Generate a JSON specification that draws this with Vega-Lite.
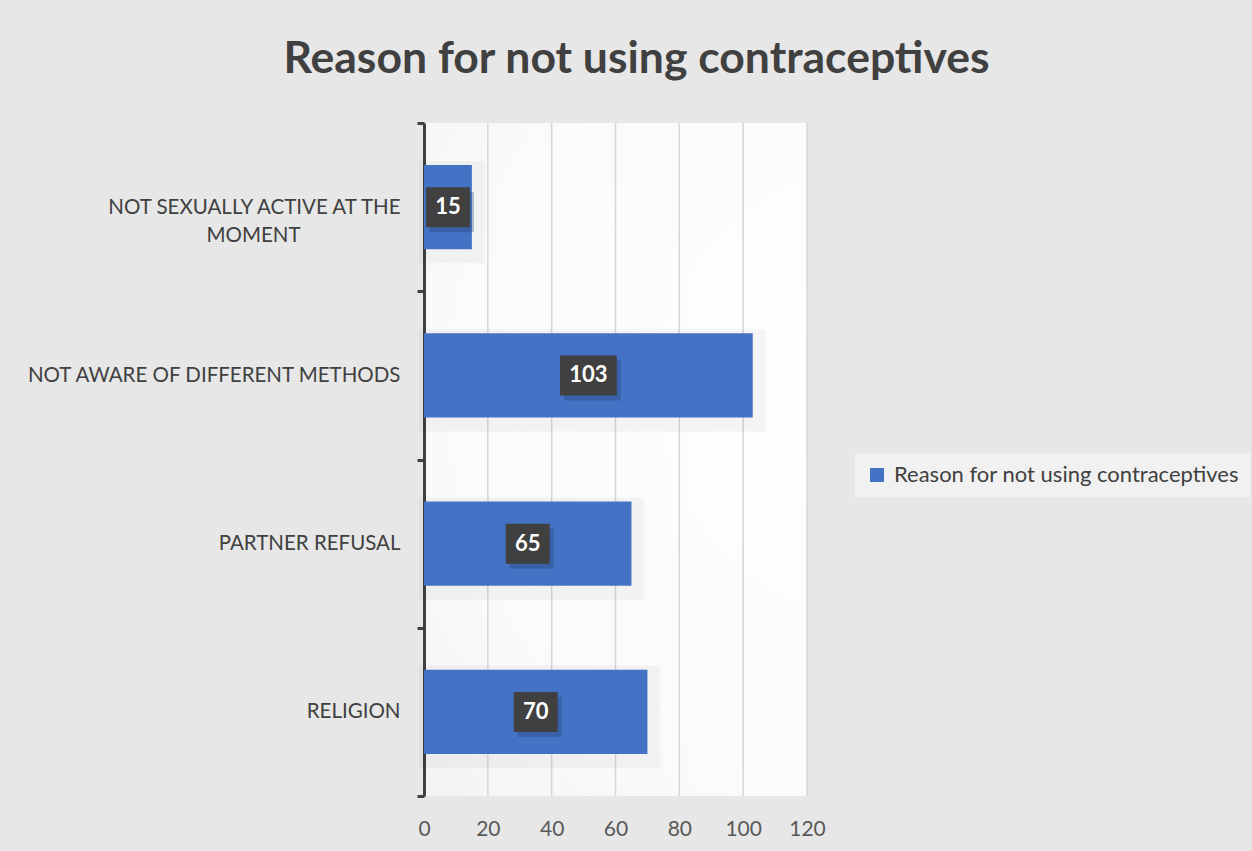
{
  "$schema": "https://vega.github.io/schema/vega-lite/v6.json",
  "autosize": "none",
  "width": 383,
  "height": 673,
  "padding": {"left": 424, "top": 123, "right": 445, "bottom": 55},
  "background": "#e7e7e7",
  "title": {
    "text": "Reason for not using contraceptives",
    "font": "Lato",
    "fontSize": 44.5,
    "fontWeight": "bold",
    "color": "#404040",
    "anchor": "middle",
    "frame": "group",
    "dx": 21,
    "baseline": "alphabetic",
    "offset": -4
  },
  "data": {
    "values": [
      {"reason": "NOT SEXUALLY ACTIVE AT THE MOMENT", "count": 15, "series": "Reason for not using contraceptives"},
      {"reason": "NOT AWARE OF DIFFERENT METHODS", "count": 103, "series": "Reason for not using contraceptives"},
      {"reason": "PARTNER REFUSAL", "count": 65, "series": "Reason for not using contraceptives"},
      {"reason": "RELIGION", "count": 70, "series": "Reason for not using contraceptives"}
    ]
  },
  "layer": [
    {
      "data": {"values": [{"gridValue": 20}, {"gridValue": 40}, {"gridValue": 60}, {"gridValue": 80}, {"gridValue": 100}, {"gridValue": 120}]},
      "mark": {"type": "rule", "color": "#d6d6d6", "strokeWidth": 1.5},
      "encoding": {
        "x": {"field": "gridValue", "type": "quantitative", "scale": {"domain": [0, 120]}, "axis": null}
      }
    },
    {
      "mark": {"type": "bar", "height": {"band": 0.5}, "fill": null, "stroke": "#000000", "strokeOpacity": 0.035, "strokeWidth": 18, "xOffset": 4, "yOffset": 5},
      "encoding": {
        "y": {
          "field": "reason",
          "type": "nominal",
          "sort": null,
          "scale": {"paddingInner": 0, "paddingOuter": 0},
          "axis": {
            "title": null,
            "domainColor": "#404040",
            "domainWidth": 3,
            "tickColor": "#404040",
            "tickWidth": 3,
            "tickSize": 7,
            "tickBand": "extent",
            "labelFont": "Lato",
            "labelFontSize": 20.5,
            "labelColor": "#404040",
            "labelPadding": 17,
            "labelLineHeight": 28,
            "labelLimit": 500,
            "grid": false,
            "labelExpr": "datum.value == 'NOT SEXUALLY ACTIVE AT THE MOMENT' ? ['NOT SEXUALLY ACTIVE AT THE', 'MOMENT\u00a0\u00a0\u2800\u2800\u2800\u2800\u2800\u2800'] : datum.label"
          }
        },
        "x": {"field": "count", "type": "quantitative", "scale": {"domain": [0, 120]}, "axis": null}
      }
    },
    {
      "mark": {"type": "bar", "height": {"band": 0.5}},
      "encoding": {
        "y": {"field": "reason", "type": "nominal", "sort": null},
        "x": {
          "field": "count",
          "type": "quantitative",
          "scale": {"domain": [0, 120]},
          "axis": {
            "title": null,
            "values": [0, 20, 40, 60, 80, 100, 120],
            "domain": false,
            "ticks": false,
            "tickSize": 0,
            "grid": false,
            "labelFlush": false,
            "labelOverlap": false,
            "labelFont": "Lato",
            "labelFontSize": 21,
            "labelColor": "#595959",
            "labelPadding": 22
          }
        },
        "color": {
          "field": "series",
          "type": "nominal",
          "scale": {"range": ["#4472C4"]},
          "legend": {
            "title": null,
            "orient": "none",
            "legendX": 431,
            "legendY": 330,
            "fillColor": "#f1f1f1",
            "padding": 11,
            "symbolType": "square",
            "symbolSize": 196,
            "symbolStrokeWidth": 0,
            "labelOffset": 6,
            "labelFont": "Lato",
            "labelFontSize": 22,
            "labelColor": "#404040",
            "labelLimit": 500
          }
        }
      }
    },
    {
      "mark": {"type": "point", "filled": true, "fill": "#1f3a6e", "opacity": 0.3, "xOffset": 4, "yOffset": 5},
      "encoding": {
        "y": {"field": "reason", "type": "nominal", "sort": null},
        "x": {"field": "count", "type": "quantitative", "scale": {"domain": [0, 240]}, "axis": null},
        "size": {"value": 1600},
        "shape": {"condition": {"test": "datum.count >= 100", "value": "M-1.42,-1H1.42V1H-1.42Z"}, "value": "M-1.1,-1H1.1V1H-1.1Z"}
      }
    },
    {
      "mark": {"type": "point", "filled": true, "fill": "#404040", "opacity": 1},
      "encoding": {
        "y": {"field": "reason", "type": "nominal", "sort": null},
        "x": {"field": "count", "type": "quantitative", "scale": {"domain": [0, 240]}, "axis": null},
        "size": {"value": 1600},
        "shape": {"condition": {"test": "datum.count >= 100", "value": "M-1.42,-1H1.42V1H-1.42Z"}, "value": "M-1.1,-1H1.1V1H-1.1Z"}
      }
    },
    {
      "mark": {"type": "text", "font": "Lato", "fontSize": 22, "fontWeight": "bold", "color": "#ffffff", "baseline": "middle", "align": "center"},
      "encoding": {
        "y": {"field": "reason", "type": "nominal", "sort": null},
        "x": {"field": "count", "type": "quantitative", "scale": {"domain": [0, 240]}, "axis": null},
        "text": {"field": "count", "type": "quantitative"}
      }
    }
  ],
  "resolve": {"scale": {"x": "independent"}},
  "config": {
    "view": {
      "stroke": null,
      "fill": {
        "gradient": "radial",
        "x1": 0.9, "y1": 0.4, "r1": 0,
        "x2": 0.9, "y2": 0.4, "r2": 1.1,
        "stops": [{"offset": 0, "color": "#ffffff"}, {"offset": 0.6, "color": "#fafafa"}, {"offset": 1, "color": "#eeeeee"}]
      }
    },
    "legend": {"symbolFillColor": "#4472C4"}
  }
}
